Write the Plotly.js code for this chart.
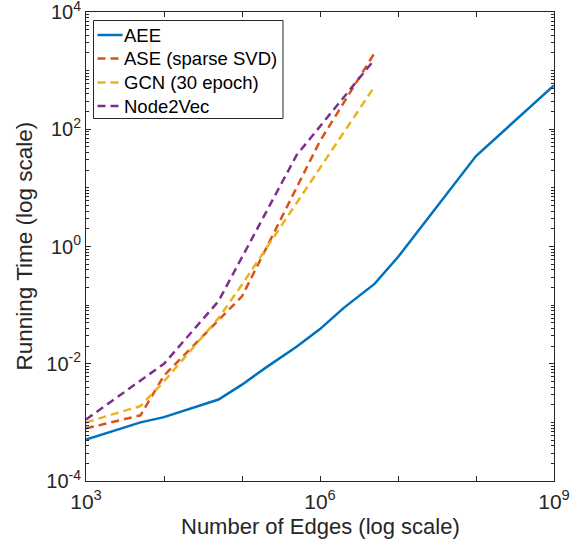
<!DOCTYPE html>
<html>
<head>
<meta charset="utf-8">
<script src="https://cdn.plot.ly/plotly-3.0.1.min.js"></script>
<style>
  html, body { margin: 0; padding: 0; background: #ffffff; }
  #chart { width: 582px; height: 552px; }
</style>
</head>
<body>
<div id="chart"></div>
<script>
// ---- data ----
const edgesAEE  = [1e3, 5e3, 1e4, 5e4, 1e5, 2e5, 5e5, 1e6, 2e6, 5e6, 1e7, 1e8, 1e9];
const timeAEE   = [5.1e-4, 1.0e-3, 1.23e-3, 2.45e-3, 4.4e-3, 8.5e-3, 0.0195, 0.039, 0.089, 0.23, 0.66, 35, 560];

const edgesASE  = [1e3, 5e3, 1e4, 5e4, 1e5, 1e6, 5e6];
const timeASE   = [7.9e-4, 1.32e-3, 6.3e-3, 0.054, 0.141, 63, 2000];

const edgesGCN  = [1e3, 5e3, 1e4, 5e4, 1e5, 5e6];
const timeGCN   = [1.0e-3, 1.9e-3, 5.0e-3, 0.060, 0.224, 537];

const edgesN2V  = [1e3, 5e3, 1e4, 5e4, 5e5, 5e6];
const timeN2V   = [1.12e-3, 5.1e-3, 0.010, 0.117, 36, 1550];

const seriesNames  = ['AEE', 'ASE (sparse SVD)', 'GCN (30 epoch)', 'Node2Vec'];
const seriesColors = ['#0072BD', '#D95319', '#EDB120', '#7E2F8E'];

const xTickVals  = [1e3, 1e6, 1e9];
const xTickText  = ['10<sup>3</sup>', '10<sup>6</sup>', '10<sup>9</sup>'];
const xMinorVals = [1e4, 1e5, 1e7, 1e8];
const yTickVals  = [1e-4, 1e-2, 1e0, 1e2, 1e4];
const yTickText  = ['10<sup>-4</sup>', '10<sup>-2</sup>', '10<sup>0</sup>', '10<sup>2</sup>', '10<sup>4</sup>'];

const xTitle = 'Number of Edges (log scale)';
const yTitle = 'Running Time (log scale)';

// minor tick positions on the y axis (1..9 x each decade)
const yMinor = [];
for (let k = -4; k < 4; k++) {
  for (let d = 1; d <= 9; d++) {
    if (d === 1 && k % 2 === 0) continue;
    yMinor.push(d * Math.pow(10, k));
  }
}

const ink = '#262626';
const dashPat = '8px,5px';
const dashes = ['solid', dashPat, dashPat, dashPat];

const xs = [edgesAEE, edgesASE, edgesGCN, edgesN2V];
const ys = [timeAEE, timeASE, timeGCN, timeN2V];

const traces = xs.map((x, i) => ({
  x: x, y: ys[i], name: seriesNames[i], mode: 'lines', showlegend: false,
  line: {color: seriesColors[i], width: 2.5, dash: dashes[i]}
}));

// plot-area geometry (pixels) for the hand-drawn MATLAB-style legend
const M = {l: 86, r: 28, t: 12, b: 71};
const PW = 582 - M.l - M.r, PH = 552 - M.t - M.b;
const px = v => (v - M.l) / PW;            // pixel x -> paper x
const py = v => (552 - M.b - v) / PH;      // pixel y -> paper y

const legRows = [35, 58.5, 82.5, 106];
const shapes = [
  {type: 'rect', xref: 'paper', yref: 'paper', x0: px(93.5), x1: px(283), y0: py(20.5), y1: py(118.5),
   line: {color: ink, width: 1}, fillcolor: '#ffffff', layer: 'above'}
];
const annotations = [];
seriesNames.forEach((name, i) => {
  shapes.push({type: 'line', xref: 'paper', yref: 'paper',
    x0: px(97.5), x1: px(122.5), y0: py(legRows[i]), y1: py(legRows[i]),
    line: {color: seriesColors[i], width: 2.5, dash: i === 0 ? 'solid' : '8px,5px'}, layer: 'above'});
  annotations.push({xref: 'paper', yref: 'paper', x: px(122), y: py(legRows[i]),
    xanchor: 'left', yanchor: 'middle', showarrow: false, text: name,
    font: {size: 18.5, color: '#000000'}});
});
annotations.push({xref: 'paper', yref: 'paper', x: 0.5, y: py(526), xanchor: 'center', yanchor: 'middle',
  showarrow: false, text: xTitle, font: {size: 22, color: ink}});
annotations.push({xref: 'paper', yref: 'paper', x: px(24), y: 0.5, xanchor: 'center', yanchor: 'middle',
  showarrow: false, text: yTitle, textangle: -90, font: {size: 22.5, color: ink}});

const layout = {
  width: 582, height: 552,
  margin: M,
  paper_bgcolor: '#ffffff', plot_bgcolor: 'rgba(0,0,0,0)',
  font: {family: 'Liberation Sans, Arial, sans-serif', color: ink, size: 18},
  showlegend: false,
  shapes: shapes,
  annotations: annotations,
  xaxis: {
    type: 'log', range: [3, 9],
    tickmode: 'array', tickvals: xTickVals, ticktext: xTickText,
    ticks: 'inside', ticklen: 5, tickcolor: ink, tickwidth: 1,
    minor: {tickmode: 'array', tickvals: xMinorVals, ticks: 'inside', ticklen: 5, tickcolor: ink, showgrid: false},
    showline: true, linecolor: ink, linewidth: 1, mirror: 'ticks',
    showgrid: false, zeroline: false, ticklabeloverflow: 'allow',
    ticklabelstandoff: 2,
    tickfont: {size: 21, color: ink}
  },
  yaxis: {
    type: 'log', range: [-4, 4],
    tickmode: 'array', tickvals: yTickVals, ticktext: yTickText,
    ticks: 'inside', ticklen: 5, tickcolor: ink, tickwidth: 1,
    minor: {tickmode: 'array', tickvals: yMinor, ticks: 'inside', ticklen: 3, tickcolor: ink, showgrid: false},
    showline: true, linecolor: ink, linewidth: 1, mirror: 'ticks',
    showgrid: false, zeroline: false, ticklabeloverflow: 'allow',
    tickfont: {size: 20, color: ink}
  }
};

Plotly.newPlot('chart', traces, layout, {displayModeBar: false, staticPlot: true});
</script>
</body>
</html>
